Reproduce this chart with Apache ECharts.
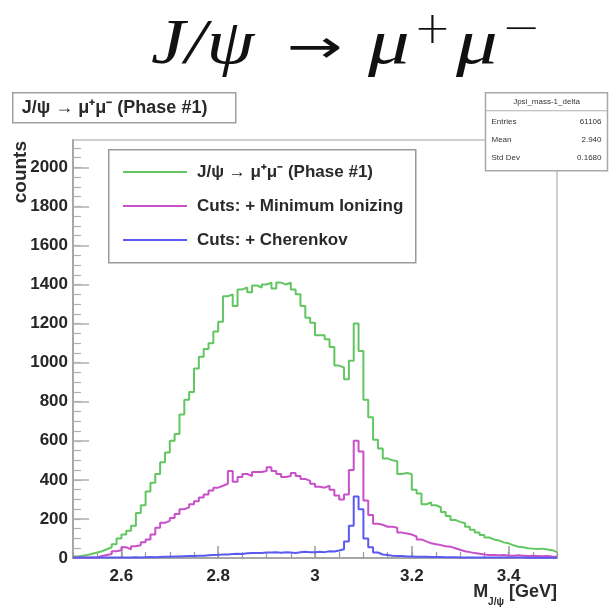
<!DOCTYPE html>
<html>
<head>
<meta charset="utf-8">
<script src="https://cdn.jsdelivr.net/npm/echarts@6/dist/echarts.min.js"></script>
<style>
  html, body { margin: 0; padding: 0; background: #ffffff; }
  #chart { width: 616px; height: 613px; }
</style>
</head>
<body>
<div id="chart"></div>
<script>
// Histogram binning: 100 bins of 10 MeV from 2.5 to 3.5 GeV
const binStart = 2.5;
const binWidth = 0.01;

// J/psi -> mu+ mu- candidates, no cuts (counts per bin)
const phase1 = [
  8, 12, 15, 22, 28, 35, 45, 55, 70, 100,
  120, 140, 165, 230, 270, 340, 385, 430, 490, 540,
  600, 635, 735, 810, 850, 970, 1030, 1070, 1100, 1160,
  1210, 1340, 1350, 1290, 1375, 1385, 1360, 1395, 1385, 1400,
  1410, 1380, 1410, 1400, 1410, 1375, 1350, 1290, 1230, 1205,
  1140, 1140, 1120, 1080, 985, 975, 915, 1010, 1200, 1060,
  810, 720, 605, 560, 510, 500, 495, 430, 435, 430,
  350, 330, 275, 285, 270, 260, 235, 215, 195, 185,
  178, 160, 145, 130, 118, 105, 95, 90, 80, 75,
  65, 58, 55, 50, 48, 46, 48, 44, 40, 30
];

// after the minimum-ionizing cut
const minIonizing = [
  3, 3, 3, 3, 3, 10, 15, 20, 35, 40,
  55, 45, 60, 65, 80, 95, 120, 155, 180, 190,
  205, 225, 250, 260, 275, 290, 310, 325, 345, 360,
  370, 380, 445, 390, 415, 430, 420, 440, 440, 445,
  465, 445, 430, 415, 420, 435, 420, 405, 395, 380,
  365, 360, 370, 350, 320, 300, 325, 450, 600, 545,
  295, 220, 175, 170, 160, 160, 155, 130, 125, 120,
  110, 95, 85, 75, 70, 66, 60, 58, 50, 42,
  35, 30, 25, 22, 18, 15, 15, 14, 15, 13,
  12, 14, 12, 10, 11, 10, 9, 10, 8, 7
];

// after the Cherenkov cut
const cherenkov = [
  2, 2, 1, 2, 2, 3, 2, 2, 3, 3,
  3, 3, 4, 3, 4, 5, 4, 5, 6, 7,
  8, 8, 9, 10, 10, 12, 12, 14, 15, 16,
  18, 18, 20, 22, 20, 24, 25, 26, 25, 28,
  28, 30, 27, 30, 28, 26, 30, 32, 29, 30,
  32, 30, 35, 33, 38, 45, 85, 165, 315, 250,
  100, 55, 28, 18, 15, 12, 10, 10, 8, 8,
  7, 6, 6, 5, 5, 5, 4, 4, 4, 3,
  3, 3, 3, 3, 2, 2, 2, 2, 2, 2,
  2, 2, 2, 1, 1, 1, 1, 1, 1, 1
];

const seriesNames = ['J/ψ → μ⁺μ⁻ (Phase #1)', 'Cuts: + Minimum Ionizing', 'Cuts: + Cherenkov'];
const seriesColors = ['#62c662', '#c850c8', '#5a5af0'];

// axis ranges and labelled ticks
const xMin = 2.5, xMax = 3.5;
const yMin = 0, yMax = 2140;
const xTickLabels = [2.6, 2.8, 3.0, 3.2, 3.4];
const yTickLabels = [0, 200, 400, 600, 800, 1000, 1200, 1400, 1600, 1800, 2000];

// stats box contents
const statsTitle = 'Jpsi_mass-1_delta';
const statsRows = [['Entries', '61106'], ['Mean', '2.940'], ['Std Dev', '0.1680']];

// minor tick positions
function ticksEvery(lo, hi, step) {
  const out = [];
  const n = Math.round((hi - lo) / step);
  for (let i = 0; i <= n; i++) out.push(+(lo + i * step).toFixed(6));
  return out;
}
const xMinorTicks = ticksEvery(xMin, xMax, 0.05);
const yMinorTicks = ticksEvery(0, 2100, 50);

// left bin edges plus the closing edge, drawn as a step line
function histSteps(values) {
  const pts = values.map((v, i) => [+(binStart + i * binWidth).toFixed(6), v]);
  pts.push([+(binStart + values.length * binWidth).toFixed(6), values[values.length - 1]]);
  return pts;
}

const FONT = 'Liberation Sans';
const SERIF = 'Liberation Serif';
const axisGray = '#9a9a9a';
const ink = '#111111';

const chart = echarts.init(document.getElementById('chart'), null, { renderer: 'canvas' });

const histData = [phase1, minIonizing, cherenkov];

// pieces of the typeset headline
function titlePiece(text, x, y, size, opts) {
  return Object.assign({
    type: 'text', x: x, y: y, z: 100,
    style: Object.assign({
      text: text, fontFamily: SERIF, fontStyle: 'italic', fontSize: size,
      fill: ink, verticalAlign: 'middle', align: 'left'
    }, (opts && opts.style) || {})
  }, (opts && opts.el) || {});
}

chart.setOption({
  animation: false,
  backgroundColor: '#ffffff',
  grid: {
    left: 73, top: 140, width: 484, height: 418,
    show: true, borderColor: '#cfcfcf', borderWidth: 2, backgroundColor: '#ffffff'
  },
  legend: {
    left: 118, top: 157, orient: 'vertical',
    itemWidth: 64, itemHeight: 2, itemGap: 14, icon: 'rect',
    textStyle: { fontFamily: FONT, fontSize: 17, fontWeight: 'bold', color: '#2a2a2a', lineHeight: 20, padding: [0, 0, 0, 5] },
    data: seriesNames
  },
  xAxis: [{
    type: 'value', min: xMin, max: xMax, position: 'bottom',
    axisLine: { show: true, onZero: false, lineStyle: { color: axisGray, width: 1.5 } },
    axisTick: { show: true, inside: true, length: 12, customValues: xTickLabels, lineStyle: { color: axisGray, width: 1.5 } },
    axisLabel: { customValues: xTickLabels, fontFamily: FONT, fontSize: 17, fontWeight: 'bold', color: '#262626', margin: 10 },
    splitLine: { show: false }
  }, {
    type: 'value', min: xMin, max: xMax, position: 'bottom',
    axisLine: { show: false },
    axisTick: { show: true, inside: true, length: 6, customValues: xMinorTicks, lineStyle: { color: axisGray, width: 1.2 } },
    axisLabel: { show: false },
    splitLine: { show: false }
  }],
  yAxis: [{
    type: 'value', min: yMin, max: yMax, position: 'left',
    axisLine: { show: true, onZero: false, lineStyle: { color: axisGray, width: 1.5 } },
    axisTick: { show: true, inside: true, length: 16, customValues: yTickLabels, lineStyle: { color: '#b0b0b0', width: 1.5 } },
    axisLabel: {
      customValues: yTickLabels, formatter: v => String(v),
      fontFamily: FONT, fontSize: 17, fontWeight: 'bold', color: '#262626', margin: 5
    },
    splitLine: { show: false }
  }, {
    type: 'value', min: yMin, max: yMax, position: 'left',
    axisLine: { show: false },
    axisTick: { show: true, inside: true, length: 8, customValues: yMinorTicks, lineStyle: { color: '#b0b0b0', width: 1.2 } },
    axisLabel: { show: false },
    splitLine: { show: false }
  }],
  series: histData.map((vals, k) => ({
    name: seriesNames[k],
    type: 'line',
    step: 'end',
    symbol: 'none',
    xAxisIndex: 0, yAxisIndex: 0,
    data: histSteps(vals),
    color: seriesColors[k],
    lineStyle: { color: seriesColors[k], width: 2 },
    z: 3 + k
  })),
  graphic: [
    // headline: J/ψ → μ⁺μ⁻
    titlePiece('J/ψ', 151, 46, 64, { el: { scaleX: 1.2 } }),
    titlePiece('→', 287, 50, 46, { el: { scaleX: 1.45 }, style: { fontFamily: 'DejaVu Sans', fontStyle: 'normal' } }),
    titlePiece('μ', 368, 46, 64, { el: { scaleX: 1.3 } }),
    titlePiece('+', 414, 32, 44, { style: { fontFamily: 'DejaVu Sans', fontStyle: 'normal', fontWeight: 200 } }),
    titlePiece('μ', 456, 46, 64, { el: { scaleX: 1.3 } }),
    titlePiece('−', 502, 31, 44, { el: { scaleX: 1.05 }, style: { fontFamily: 'DejaVu Sans', fontStyle: 'normal', fontWeight: 200 } }),
    // histogram title box
    {
      type: 'group', left: 12, top: 92,
      children: [
        { type: 'rect', shape: { x: 0, y: 0, width: 223, height: 30 }, style: { fill: '#ffffff', stroke: '#a0a0a0', lineWidth: 1.5 } },
        { type: 'text', x: 9, y: 15, style: { text: 'J/ψ → μ⁺μ⁻ (Phase #1)', fontFamily: FONT, fontSize: 18, fontWeight: 'bold', fill: '#2a2a2a', verticalAlign: 'middle' } }
      ]
    },
    // legend frame
    {
      type: 'rect', left: 108, top: 149, z: 1,
      shape: { x: 0, y: 0, width: 307, height: 113 },
      style: { fill: '#ffffff', stroke: '#9a9a9a', lineWidth: 1.5 }
    },
    // stats box
    {
      type: 'group', left: 483, top: 92, z: 50,
      children: [
        { type: 'rect', shape: { x: 0, y: 0, width: 122, height: 78 }, style: { fill: '#ffffff', stroke: '#a8a8a8', lineWidth: 1.5 } },
        { type: 'line', shape: { x1: 0, y1: 18, x2: 122, y2: 18 }, style: { stroke: '#b0b0b0', lineWidth: 1 } },
        { type: 'text', x: 61, y: 9, style: { text: statsTitle, fontFamily: FONT, fontSize: 8, fill: '#333', align: 'center', verticalAlign: 'middle' } },
        ...statsRows.flatMap((r, i) => [
          { type: 'text', x: 6, y: 29 + i * 18, style: { text: r[0], fontFamily: FONT, fontSize: 8, fill: '#333', verticalAlign: 'middle' } },
          { type: 'text', x: 116, y: 29 + i * 18, style: { text: r[1], fontFamily: FONT, fontSize: 8, fill: '#333', align: 'right', verticalAlign: 'middle' } }
        ])
      ]
    },
    // y axis title
    {
      type: 'text', x: 21, y: 141, rotation: Math.PI / 2, z: 60,
      style: { text: 'counts', fontFamily: FONT, fontSize: 19, fontWeight: 'bold', fill: '#2a2a2a', align: 'right', verticalAlign: 'middle' }
    },
    // x axis title
    {
      type: 'text', right: 59, top: 583,
      style: {
        text: '{m|M}{sub|J/ψ}{m| [GeV]}',
        rich: {
          m: { fontFamily: FONT, fontSize: 18, fontWeight: 'bold', fill: '#2a2a2a', lineHeight: 24, verticalAlign: 'top' },
          sub: { fontFamily: FONT, fontSize: 10, fontWeight: 'bold', fill: '#2a2a2a', lineHeight: 24, verticalAlign: 'bottom' }
        }
      }
    }
  ]
});
</script>
</body>
</html>
